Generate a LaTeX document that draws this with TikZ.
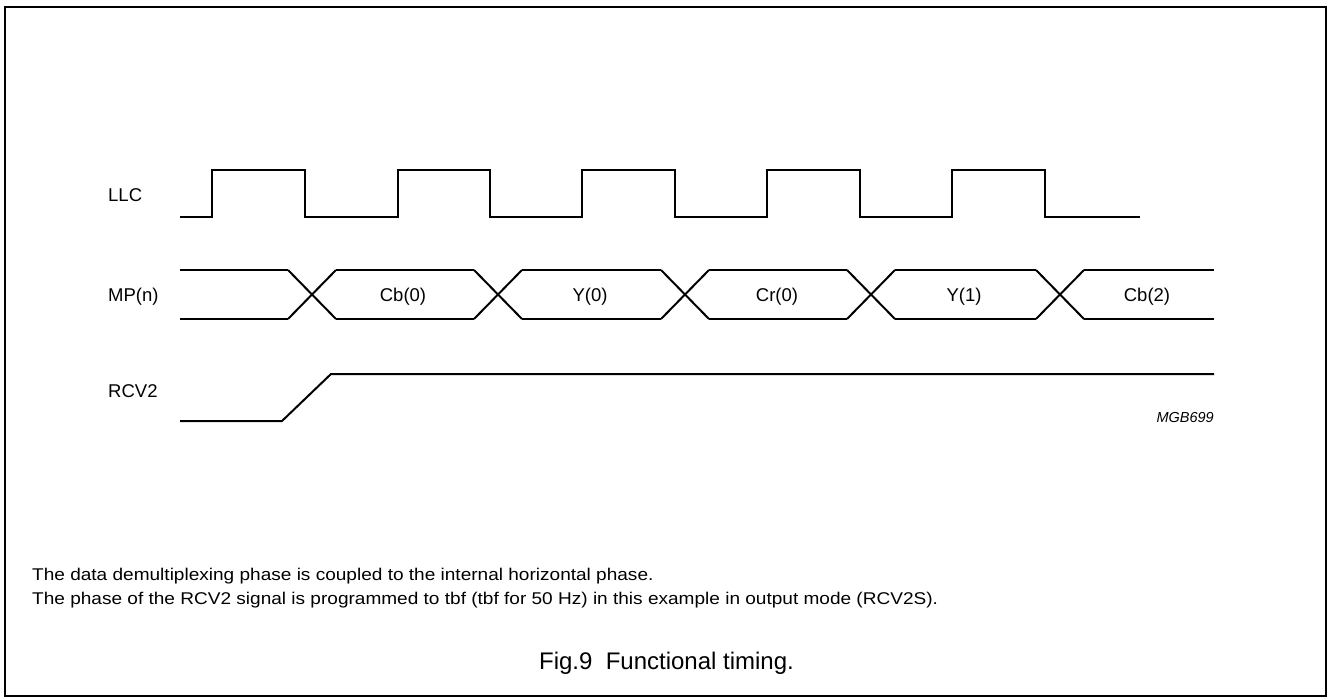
\documentclass[tikz,border=0pt]{standalone}
\usepackage{fontspec}
\setmainfont{Liberation Sans}
\newfontfamily\notefont[FakeStretch=1.12]{Liberation Sans}
\begin{document}
\begin{tikzpicture}[x=1pt,y=-1pt,
  wave/.style={line width=2pt,line join=miter},
  siglabel/.style={anchor=base west,inner sep=0pt,font=\fontsize{18.5}{22}\selectfont},
  datalabel/.style={anchor=base,inner sep=0pt,font=\fontsize{18.5}{22}\selectfont},
  note/.style={anchor=base west,inner sep=0pt,font=\notefont\fontsize{17}{20}\selectfont}]
\useasboundingbox (0,0) rectangle (1328,698);
\draw[line width=1.5pt] (5,7) rectangle (1326,696);
% labels
\node[siglabel] (llc) at (108,201) {LLC};
\node[siglabel] (mpn) at (108,301) {MP(n)};
\node[siglabel] (rcv) at (108,397) {RCV2};
% LLC clock
\draw[wave] (180,217) -- (212,217) -- (212,170) -- (305,170) -- (305,217)
  -- (398,217) -- (398,170) -- (490,170) -- (490,217)
  -- (582,217) -- (582,170) -- (675,170) -- (675,217)
  -- (767,217) -- (767,170) -- (860,170) -- (860,217)
  -- (952,217) -- (952,170) -- (1045,170) -- (1045,217) -- (1140,217);
% MP(n) bus
\foreach \c in {312,498,685,871,1060}{
  \draw[wave] (\c-24,270) -- (\c+24,319);
  \draw[wave] (\c-24,319) -- (\c+24,270);
}
\draw[wave] (180,270) -- (288,270);
\draw[wave] (180,319) -- (288,319);
\foreach \a/\b in {312/498,498/685,685/871,871/1060}{
  \draw[wave] (\a+24,270) -- (\b-24,270);
  \draw[wave] (\a+24,319) -- (\b-24,319);
}
\draw[wave] (1084,270) -- (1214,270);
\draw[wave] (1084,319) -- (1214,319);
\node[datalabel] (d0) at (403,301) {Cb(0)};
\node[datalabel] (d1) at (590,301) {Y(0)};
\node[datalabel] (d2) at (777,301) {Cr(0)};
\node[datalabel] (d3) at (964,301) {Y(1)};
\node[datalabel] (d4) at (1147,301) {Cb(2)};
% RCV2
\draw[wave] (180,421) -- (282,421) -- (331,374) -- (1214,374);
\node[anchor=east,inner sep=0pt,font=\fontsize{14.5}{17}\selectfont\itshape] (code) at (1214,418) {MGB699};
% notes
\node[note] (n1) at (32,580) {The data demultiplexing phase is coupled to the internal horizontal phase.};
\node[note] (n2) at (32,604) {The phase of the RCV2 signal is programmed to tbf (tbf for 50 Hz) in this example in output mode (RCV2S).};
\node[anchor=base,inner sep=0pt,font=\fontsize{24}{28}\selectfont] (cap) at (666.5,669) {Fig.9\ \ Functional timing.};
\end{tikzpicture}
\end{document}
